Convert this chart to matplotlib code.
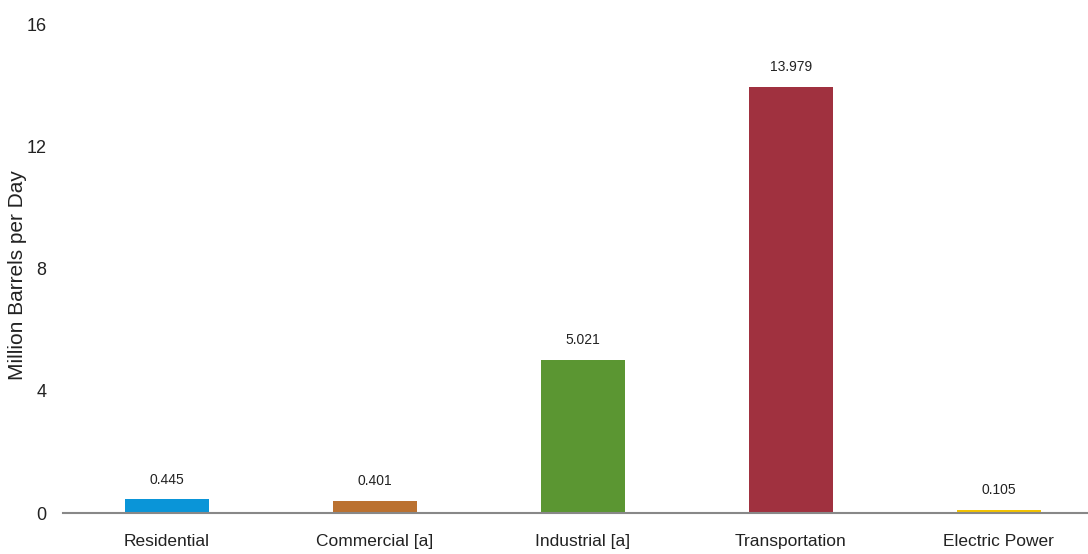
import matplotlib.pyplot as plt
from matplotlib import font_manager

# sectors and consumption (million barrels per day)
sectors = ["Residential", "Commercial [a]", "Industrial [a]", "Transportation", "Electric Power"]
values = [0.445, 0.401, 5.021, 13.979, 0.105]
labels = ["0.445", "0.401", "5.021", "13.979", "0.105"]
colors = ["#0a95d8", "#bb7130", "#5b9632", "#a0313f", "#f3c300"]
yticks = [0, 4, 8, 12, 16]

names = {f.name for f in font_manager.fontManager.ttflist}
narrow = "Liberation Sans Narrow" if "Liberation Sans Narrow" in names else "Liberation Sans"

fig = plt.figure(figsize=(10.88, 5.54), dpi=100)
ax = fig.add_axes([0.058, 0.074, 0.942, 0.881])

x = range(len(sectors))
ax.bar(x, values, width=0.404, color=colors)

for i, v in enumerate(values):
    ax.annotate(labels[i], (i, v), xytext=(0, 9), textcoords="offset points",
                ha="center", va="bottom", fontsize=10, family=narrow, color="#222222")

ax.set_xlim(-0.5, 4.43)
ax.set_ylim(0, 16)
ax.set_yticks(yticks)
ax.set_yticklabels([str(t) for t in yticks], family=narrow, fontsize=13, color="#222222")
ax.set_xticks(list(x))
ax.set_xticklabels(sectors, family=narrow, fontsize=12.5, color="#222222")
ax.tick_params(axis="both", length=0)
ax.tick_params(axis="x", pad=15)
ax.tick_params(axis="y", pad=12)

fig.text(18 / 1088, 1 - 275 / 554, "Million Barrels per Day", rotation=90,
         ha="center", va="center", family="Liberation Sans", fontsize=15, color="#222222")

for s in ["top", "right", "left"]:
    ax.spines[s].set_visible(False)
ax.spines["bottom"].set_color("#888888")
ax.spines["bottom"].set_linewidth(1.5)

fig.savefig("out.png", dpi=100)
